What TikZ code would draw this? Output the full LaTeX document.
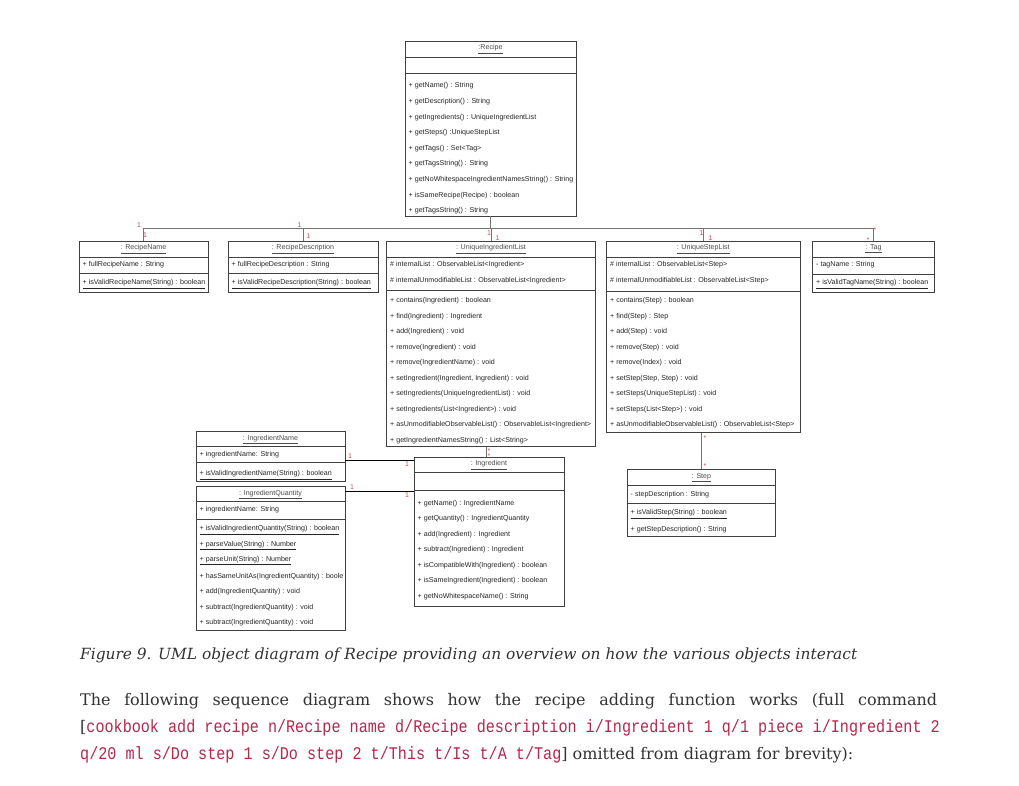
\documentclass[tikz,border=0pt]{standalone}
\usepackage{fontspec}
\setmainfont{DejaVu Serif}
\newfontfamily\umlfont{Liberation Sans}
\newfontfamily\codefont[FakeStretch=0.85]{Liberation Mono}
\definecolor{multred}{HTML}{E0474C}
\definecolor{codered}{HTML}{B8264C}
\definecolor{bodytext}{HTML}{333333}
\tikzset{
  obj/.style={draw=black!75, line width=0.8pt, rectangle, inner sep=0},
  sep/.style={draw=black!75, line width=0.8pt},
  ttl/.style={font=\umlfont\fontsize{7.1}{8}\selectfont, text=black!70, inner sep=0},
  mem/.style={anchor=west, font=\umlfont\fontsize{7.1}{8}\selectfont, text=black!85, inner sep=0},
  mult/.style={font=\umlfont\fontsize{7}{8}\selectfont, text=multred, inner sep=0},
  assoc/.style={draw=black!55, line width=0.8pt},
  link/.style={draw=black, line width=1pt},
  para/.style={anchor=base west, inner sep=0, text=bodytext, font=\fontsize{16}{19}\selectfont},
}
\begin{document}
\begin{tikzpicture}[x=1pt,y=-1pt]
	\path[use as bounding box, fill=white] (0,0) rectangle (1019,785);

	% Recipe
	\node[obj, minimum width=171pt, minimum height=174.5pt] (R) at (490.5,128.75) {};
	\draw[sep] (R.west |- 0,57) -- (R.east |- 0,57);
	\draw[sep] (R.west |- 0,73) -- (R.east |- 0,73);
	\node[ttl] (Rt) at (490.5,49) {\underline{:Recipe}};
	\node[mem] (R1) at (408.5,86) {+ getName() : String};
	\node[mem] (R2) at (408.5,101.6) {+ getDescription() : String};
	\node[mem] (R3) at (408.5,117.2) {+ getIngredients() : UniqueIngredientList};
	\node[mem] (R4) at (408.5,132.8) {+ getSteps() :UniqueStepList};
	\node[mem] (R5) at (408.5,148.4) {+ getTags() : Set<Tag>};
	\node[mem] (R6) at (408.5,164) {+ getTagsString() : String};
	\node[mem] (R7) at (408.5,179.6) {+ getNoWhitespaceIngredientNamesString() : String};
	\node[mem] (R8) at (408.5,195.2) {+ isSameRecipe(Recipe) : boolean};
	\node[mem] (R9) at (408.5,210.8) {+ getTagsString() : String};

	% RecipeName
	\node[obj, minimum width=129pt, minimum height=50.5pt] (RN) at (143.5,266.75) {};
	\draw[sep] (RN.west |- 0,257) -- (RN.east |- 0,257);
	\draw[sep] (RN.west |- 0,273.5) -- (RN.east |- 0,273.5);
	\node[ttl] (RNt) at (143.5,249) {\underline{: RecipeName}};
	\node[mem] (RN1) at (82.5,265) {+ fullRecipeName : String};
	\node[mem] (RN2) at (82.5,284) {\underline{+ isValidRecipeName(String) : boolean}};

	% RecipeDescription
	\node[obj, minimum width=150pt, minimum height=50.5pt] (RD) at (303,266.75) {};
	\draw[sep] (RD.west |- 0,257) -- (RD.east |- 0,257);
	\draw[sep] (RD.west |- 0,273.5) -- (RD.east |- 0,273.5);
	\node[ttl] (RDt) at (303,249) {\underline{: RecipeDescription}};
	\node[mem] (RD1) at (231.5,265) {+ fullRecipeDescription : String};
	\node[mem] (RD2) at (231.5,284) {\underline{+ isValidRecipeDescription(String) : boolean}};

	% UniqueIngredientList
	\node[obj, minimum width=209pt, minimum height=205pt] (UI) at (491,344) {};
	\draw[sep] (UI.west |- 0,257) -- (UI.east |- 0,257);
	\draw[sep] (UI.west |- 0,290) -- (UI.east |- 0,290);
	\node[ttl] (UIt) at (491,249) {\underline{: UniqueIngredientList}};
	\node[mem] (UIa) at (390,265) {\# internalList : ObservableList<Ingredient>};
	\node[mem] (UIb) at (390,280.3) {\# internalUnmodifiableList : ObservableList<Ingredient>};
	\node[mem] (UI1) at (390,300.7) {+ contains(Ingredient) : boolean};
	\node[mem] (UI2) at (390,316.2) {+ find(Ingredient) : Ingredient};
	\node[mem] (UI3) at (390,331.8) {+ add(Ingredient) : void};
	\node[mem] (UI4) at (390,347.3) {+ remove(Ingredient) : void};
	\node[mem] (UI5) at (390,362.9) {+ remove(IngredientName) : void};
	\node[mem] (UI6) at (390,378.4) {+ setIngredient(Ingredient, Ingredient) : void};
	\node[mem] (UI7) at (390,394) {+ setIngredients(UniqueIngredientList) : void};
	\node[mem] (UI8) at (390,409.5) {+ setIngredients(List<Ingredient>) : void};
	\node[mem] (UI9) at (390,425.1) {+ asUnmodifiableObservableList() : ObservableList<Ingredient>};
	\node[mem] (UI10) at (390,440.6) {+ getIngredientNamesString() : List<String>};

	% UniqueStepList
	\node[obj, minimum width=193.5pt, minimum height=191pt] (US) at (703.25,337) {};
	\draw[sep] (US.west |- 0,257) -- (US.east |- 0,257);
	\draw[sep] (US.west |- 0,291) -- (US.east |- 0,291);
	\node[ttl] (USt) at (703.25,249) {\underline{: UniqueStepList}};
	\node[mem] (USa) at (610,265) {\# internalList : ObservableList<Step>};
	\node[mem] (USb) at (610,280.3) {\# internalUnmodifiableList : ObservableList<Step>};
	\node[mem] (US1) at (610,300.7) {+ contains(Step) : boolean};
	\node[mem] (US2) at (610,316.2) {+ find(Step) : Step};
	\node[mem] (US3) at (610,331.8) {+ add(Step) : void};
	\node[mem] (US4) at (610,347.3) {+ remove(Step) : void};
	\node[mem] (US5) at (610,362.9) {+ remove(Index) : void};
	\node[mem] (US6) at (610,378.4) {+ setStep(Step, Step) : void};
	\node[mem] (US7) at (610,394) {+ setSteps(UniqueStepList) : void};
	\node[mem] (US8) at (610,409.5) {+ setSteps(List<Step>) : void};
	\node[mem] (US9) at (610,425.1) {+ asUnmodifiableObservableList() : ObservableList<Step>};

	% Tag
	\node[obj, minimum width=122pt, minimum height=51pt] (TG) at (873.5,267) {};
	\draw[sep] (TG.west |- 0,257) -- (TG.east |- 0,257);
	\draw[sep] (TG.west |- 0,274) -- (TG.east |- 0,274);
	\node[ttl] (TGt) at (873.5,249) {\underline{: Tag}};
	\node[mem] (TG1) at (816,265) {- tagName : String};
	\node[mem] (TG2) at (816,284) {\underline{+ isValidTagName(String) : boolean}};

	% IngredientName
	\node[obj, minimum width=149pt, minimum height=50pt] (IN) at (270.5,456.7) {};
	\draw[sep] (IN.west |- 0,446.7) -- (IN.east |- 0,446.7);
	\draw[sep] (IN.west |- 0,462.7) -- (IN.east |- 0,462.7);
	\node[ttl] (INt) at (270.5,439.5) {\underline{: IngredientName}};
	\node[mem] (IN1) at (199.5,454.7) {+ ingredientName: String};
	\node[mem] (IN2) at (199.5,475) {\underline{+ isValidIngredientName(String) : boolean}};

	% IngredientQuantity
	\node[obj, minimum width=149pt, minimum height=144pt] (IQ) at (270.5,558.7) {};
	\draw[sep] (IQ.west |- 0,501.7) -- (IQ.east |- 0,501.7);
	\draw[sep] (IQ.west |- 0,519.3) -- (IQ.east |- 0,519.3);
	\node[ttl] (IQt) at (270.5,494.5) {\underline{: IngredientQuantity}};
	\node[mem] (IQa) at (199.5,509.3) {+ ingredientName: String};
	\node[mem] (IQ1) at (199.5,530) {\underline{+ isValidIngredientQuantity(String) : boolean}};
	\node[mem] (IQ2) at (199.5,545.5) {\underline{+ parseValue(String) : Number}};
	\node[mem] (IQ3) at (199.5,560.9) {\underline{+ parseUnit(String) : Number}};
	\node[mem] (IQ4) at (199.5,576.4) {+ hasSameUnitAs(IngredientQuantity) : boole};
	\node[mem] (IQ5) at (199.5,591.8) {+ add(IngredientQuantity) : void};
	\node[mem] (IQ6) at (199.5,607.3) {+ subtract(IngredientQuantity) : void};
	\node[mem] (IQ7) at (199.5,622.7) {+ subtract(IngredientQuantity) : void};

	% Ingredient
	\node[obj, minimum width=150pt, minimum height=148.5pt] (IG) at (489,531.75) {};
	\draw[sep] (IG.west |- 0,472.7) -- (IG.east |- 0,472.7);
	\draw[sep] (IG.west |- 0,490) -- (IG.east |- 0,490);
	\node[ttl] (IGt) at (489,465) {\underline{: Ingredient}};
	\node[mem] (IG1) at (417.5,503.3) {+ getName() : IngredientName};
	\node[mem] (IG2) at (417.5,518.9) {+ getQuantity() : IngredientQuantity};
	\node[mem] (IG3) at (417.5,534.4) {+ add(Ingredient) : Ingredient};
	\node[mem] (IG4) at (417.5,550) {+ subtract(Ingredient) : Ingredient};
	\node[mem] (IG5) at (417.5,565.5) {+ isCompatibleWith(Ingredient) : boolean};
	\node[mem] (IG6) at (417.5,581.1) {+ isSameIngredient(Ingredient) : boolean};
	\node[mem] (IG7) at (417.5,596.6) {+ getNoWhitespaceName() : String};

	% Step
	\node[obj, minimum width=148.5pt, minimum height=67.5pt] (ST) at (701.5,503) {};
	\draw[sep] (ST.west |- 0,485) -- (ST.east |- 0,485);
	\draw[sep] (ST.west |- 0,503.5) -- (ST.east |- 0,503.5);
	\node[ttl] (STt) at (701.5,477.5) {\underline{: Step}};
	\node[mem] (ST1) at (630.5,494.5) {- stepDescription : String};
	\node[mem] (ST2) at (630.5,514) {\underline{+ isValidStep(String) : boolean}};
	\node[mem] (ST3) at (630.5,529.5) {+ getStepDescription() : String};

	% associations
	\coordinate (fork) at ([yshift=-11.5pt]R.south);
	\draw[assoc] (R.south) -- (fork) -| (RN.north);
	\draw[assoc] (fork) -| (RD.north);
	\draw[assoc] (fork) -| (UI.north);
	\draw[assoc] (fork) -| (US.north);
	\draw[assoc] (fork) -| (TG.north);
	\draw[assoc] ([xshift=-3pt]IG.north) -- ([xshift=-3pt]IG.north |- UI.south);
	\draw[assoc] (ST.north) -- (ST.north |- US.south);
	\draw[link] ([yshift=-4pt]IN.east) -- ([yshift=-4pt]IN.east -| IG.west);
	\draw[link] ([yshift=-5pt]IQ.north east) -- ([yshift=-5pt]IQ.north east -| IG.west);

	% multiplicities
	\node[mult] (mRNa) at (139,225.5) {1};
	\node[mult] (mRNb) at (145,235.5) {1};
	\node[mult] (mRDa) at (299.5,225.5) {1};
	\node[mult] (mRDb) at (308.5,236.5) {1};
	\node[mult] (mUIa) at (489,233) {1};
	\node[mult] (mUIb) at (497.5,238) {1};
	\node[mult] (mUSa) at (701.5,233) {1};
	\node[mult] (mUSb) at (710.5,238) {1};
	\node[mult] (mTGa) at (875,230) {*};
	\node[mult] (mTGb) at (868,240) {*};
	\node[mult] (mIGa) at (489,451) {*};
	\node[mult] (mIGb) at (489,456) {*};
	\node[mult] (mSTa) at (705,438) {*};
	\node[mult] (mSTb) at (705,466) {*};
	\node[mult] (mINa) at (350,455.7) {1};
	\node[mult] (mINb) at (407,464) {1};
	\node[mult] (mIQa) at (352,486.7) {1};
	\node[mult] (mIQb) at (407,495) {1};

	% caption and text
	\node[para, font=\fontsize{15.4}{19}\selectfont\itshape] (cap) at (80,659) {Figure 9. UML object diagram of Recipe providing an overview on how the various objects interact};
	\node[para] (L1) at (80,705) {\makebox[857pt][s]{The following sequence diagram shows how the recipe adding function works (full command}};
	\node[para] (L2) at (80,732) {[\textcolor{codered}{\codefont\fontsize{17.8}{20}\selectfont cookbook add recipe n/Recipe name d/Recipe description i/Ingredient 1 q/1 piece i/Ingredient 2}};
	\node[para] (L3) at (80,759) {\textcolor{codered}{\codefont\fontsize{17.8}{20}\selectfont q/20 ml s/Do step 1 s/Do step 2 t/This t/Is t/A t/Tag}] omitted from diagram for brevity):};
\end{tikzpicture}
\end{document}
